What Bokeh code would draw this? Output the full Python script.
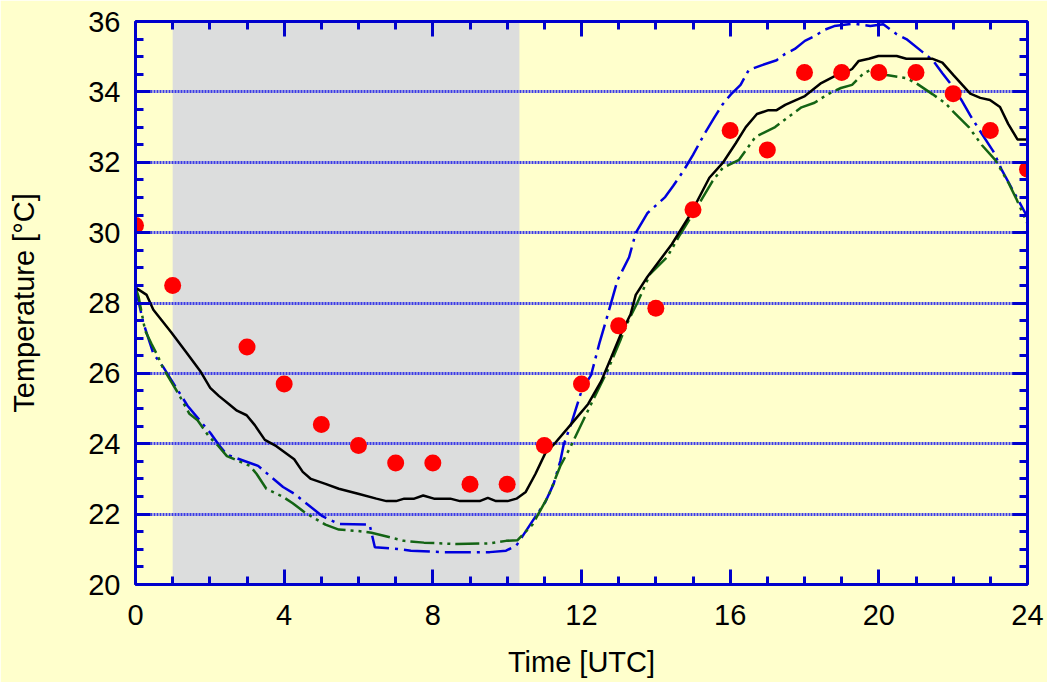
from bokeh.plotting import figure
from bokeh.models import Range1d, LinearAxis, SingleIntervalTicker, BoxAnnotation
from bokeh.embed import file_html
from bokeh.resources import INLINE

# ---- data ----
# observed hourly temperatures (red dots)
obs_hour = [0, 1, 3, 4, 5, 6, 7, 8, 9, 10, 11, 12, 13, 14, 15, 16, 17, 18, 19, 20, 21, 22, 23, 24]
obs_temp = [30.2, 28.5, 26.75, 25.7, 24.55, 23.95, 23.45, 23.45, 22.85, 22.85, 23.95, 25.7,
            27.35, 27.85, 30.65, 32.9, 32.35, 34.55, 34.55, 34.55, 34.55, 33.95, 32.9, 31.8]

# black solid series
black_hour = [0.00, 0.30, 0.48, 0.96, 1.36, 1.74, 2.01, 2.24, 2.51, 2.73, 2.99, 3.21, 3.48, 3.79,
              4.27, 4.50, 4.72, 5.11, 5.47, 5.99, 6.48, 6.75, 7.01, 7.23, 7.50, 7.74, 8.03, 8.47,
              8.73, 9.26, 9.48, 9.70, 10.01, 10.25, 10.50, 10.76, 11.03, 11.29, 11.74, 12.18,
              12.53, 12.79, 13.06, 13.32, 13.46, 13.77, 14.43, 14.92, 15.44, 15.80, 16.15, 16.42,
              16.72, 17.03, 17.25, 17.48, 18.01, 18.45, 18.80, 19.07, 19.28, 19.46, 19.73, 19.99,
              20.48, 20.74, 21.45, 21.71, 22.02, 22.46, 22.73, 22.99, 23.26, 23.48, 23.73, 24.00]
black_temp = [28.44, 28.23, 27.81, 27.17, 26.61, 26.07, 25.59, 25.36, 25.13, 24.94, 24.81, 24.53,
              24.11, 23.93, 23.56, 23.20, 23.00, 22.86, 22.72, 22.58, 22.44, 22.37, 22.37, 22.44,
              22.44, 22.53, 22.44, 22.44, 22.37, 22.37, 22.46, 22.37, 22.37, 22.44, 22.63, 23.14,
              23.74, 24.02, 24.58, 25.13, 25.78, 26.43, 27.12, 27.68, 28.23, 28.74, 29.67, 30.50,
              31.56, 31.98, 32.54, 33.00, 33.37, 33.48, 33.48, 33.63, 33.88, 34.25, 34.44, 34.53,
              34.65, 34.88, 34.94, 35.02, 35.02, 34.94, 34.94, 34.83, 34.46, 33.95, 33.83, 33.77,
              33.57, 33.09, 32.65, 32.65]

# blue dash-dot series
blue_hour = [0.00, 0.21, 0.48, 0.74, 1.40, 2.02, 2.24, 2.46, 3.30, 3.97, 4.27, 5.03, 5.47, 6.30,
             6.44, 7.05, 7.41, 8.29, 9.53, 9.97, 10.25, 10.68, 11.03, 11.25, 11.43, 11.52, 11.74,
             12.00, 12.26, 12.49, 12.71, 12.97, 13.28, 13.46, 13.77, 14.25, 14.47, 14.74, 15.00,
             15.31, 15.58, 15.80, 16.02, 16.28, 16.50, 16.86, 17.25, 17.48, 17.74, 18.01, 18.27,
             18.53, 18.80, 19.33, 19.77, 20.12, 20.48, 20.74, 21.18, 21.45, 21.71, 21.98, 22.24,
             22.46, 22.77, 23.08, 23.30, 23.66, 24.00]
blue_temp = [28.44, 27.44, 26.56, 26.19, 25.08, 24.30, 23.97, 23.69, 23.37, 22.77, 22.58, 21.94,
             21.72, 21.70, 21.06, 21.01, 20.96, 20.92, 20.92, 20.96, 21.11, 21.80, 22.35, 22.86,
             23.51, 23.97, 24.62, 25.50, 25.96, 26.89, 27.68, 28.65, 29.30, 29.99, 30.55, 31.01,
             31.33, 31.75, 32.21, 32.81, 33.28, 33.65, 33.93, 34.20, 34.62, 34.76, 34.90, 35.08,
             35.22, 35.45, 35.58, 35.76, 35.87, 35.94, 35.87, 35.92, 35.64, 35.50, 35.13, 34.90,
             34.53, 34.16, 33.74, 33.33, 32.81, 32.31, 31.80, 31.10, 30.44]

# green dash-dot-dot series
green_hour = [0.00, 0.08, 0.26, 0.43, 0.61, 0.74, 1.14, 1.45, 1.67, 1.98, 2.20, 2.46, 3.08, 3.26,
              3.52, 3.97, 4.23, 4.58, 5.11, 5.47, 5.99, 6.35, 7.23, 7.76, 8.64, 9.53, 9.97, 10.28,
              10.68, 11.12, 11.43, 11.69, 12.09, 12.26, 12.71, 13.06, 13.28, 13.50, 13.85, 14.30,
              14.65, 15.09, 15.53, 15.80, 16.24, 16.68, 17.21, 17.56, 17.92, 18.27, 18.62, 18.98,
              19.28, 19.59, 19.77, 20.21, 20.74, 21.00, 21.45, 21.80, 21.98, 22.42, 22.77, 23.13,
              23.48, 23.70, 24.00]
green_temp = [28.44, 28.19, 27.21, 26.84, 26.47, 26.15, 25.45, 24.85, 24.67, 24.20, 23.97, 23.65,
              23.37, 23.14, 22.72, 22.49, 22.31, 22.03, 21.70, 21.56, 21.52, 21.47, 21.24, 21.19,
              21.15, 21.17, 21.24, 21.26, 21.70, 22.54, 23.37, 23.88, 24.76, 25.13, 26.10, 26.98,
              27.54, 28.00, 28.83, 29.30, 29.94, 30.69, 31.47, 31.84, 32.07, 32.72, 33.00, 33.28,
              33.56, 33.69, 33.93, 34.11, 34.20, 34.53, 34.62, 34.48, 34.39, 34.25, 33.93, 33.67,
              33.46, 33.00, 32.49, 32.07, 31.43, 30.96, 30.25]

# shaded night period (hours)
shade_start = 1.0
shade_end = 10.33

x_min, x_max = 0, 24
y_min, y_max = 20, 36

BG = "#ffffcc"
AXIS_BLUE = "#0000cc"
FONT = "Liberation Sans"
FONT_SIZE = "29px"

p = figure(frame_width=892, frame_height=563,
           min_border_left=135, min_border_right=20, min_border_top=21, min_border_bottom=98,
           x_range=Range1d(x_min, x_max), y_range=Range1d(y_min, y_max),
           output_backend="svg", toolbar_location=None,
           background_fill_color=BG, border_fill_color=BG, outline_line_color=None)

p.add_layout(BoxAnnotation(left=shade_start, right=shade_end, fill_color="#dcdddd",
                           fill_alpha=1.0, line_color=None, level="image"))

xt = SingleIntervalTicker(interval=4, num_minor_ticks=4)
yt = SingleIntervalTicker(interval=2, num_minor_ticks=4)

bottom = p.below[0]
left = p.left[0]
bottom.ticker = xt
left.ticker = yt
top = LinearAxis(ticker=xt)
right = LinearAxis(ticker=yt)
p.add_layout(top, "above")
p.add_layout(right, "right")

for ax in (bottom, left, top, right):
    ax.axis_line_color = AXIS_BLUE
    ax.axis_line_width = 3
    ax.major_tick_line_color = AXIS_BLUE
    ax.major_tick_line_width = 3
    ax.minor_tick_line_color = AXIS_BLUE
    ax.minor_tick_line_width = 3
    ax.major_tick_in = 15
    ax.major_tick_out = 0
    ax.minor_tick_in = 8
    ax.minor_tick_out = 0
    ax.major_label_text_font = FONT
    ax.major_label_text_font_size = FONT_SIZE
    ax.major_label_text_color = "#000000"
    ax.axis_label_text_font = FONT
    ax.axis_label_text_font_size = FONT_SIZE
    ax.axis_label_text_font_style = "normal"
    ax.axis_label_text_color = "#000000"

for ax in (top, right):
    ax.major_label_text_font_size = "1px"
    ax.major_label_text_color = None
    ax.major_label_standoff = 0

bottom.axis_label = "Time [UTC]"
bottom.major_label_standoff = 20
bottom.axis_label_standoff = 18
left.axis_label = "Temperature [°C]"
left.major_label_standoff = 15
left.axis_label_standoff = 45

p.xgrid.visible = False
p.ygrid.ticker = yt
p.ygrid.grid_line_color = "#3c3ce6"
p.ygrid.grid_line_width = 3
p.ygrid.grid_line_dash = "2 1"
p.ygrid.grid_line_alpha = 1.0

p.line(blue_hour, blue_temp, line_color="#0000dd", line_width=2.5, line_dash="26 6 3 6")
p.line(green_hour, green_temp, line_color="#146414", line_width=2.5, line_dash="24 5 3 5 3 5")
p.line(black_hour, black_temp, line_color="#000000", line_width=2.5)
p.scatter(obs_hour, obs_temp, size=17, fill_color="#ff0000", line_color=None)

open("out.html", "w").write(file_html(p, INLINE))
